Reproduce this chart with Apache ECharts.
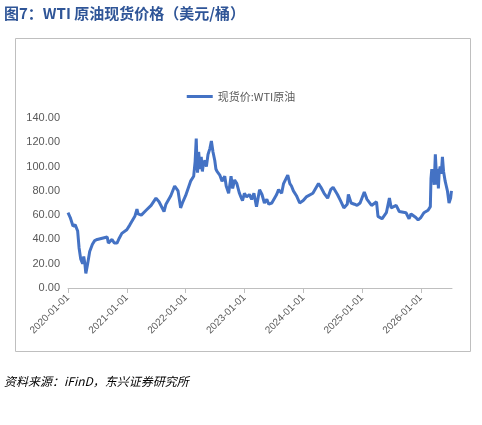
<!DOCTYPE html><html><head><meta charset="utf-8">
<script src="https://cdn.jsdelivr.net/npm/echarts@6/dist/echarts.min.js"></script>
<style>html,body{margin:0;padding:0;background:#fff}#c{width:482px;height:425px}</style></head><body><div id="c"></div>
<script>
const dates=["2020-01-01","2020-01-15","2020-02-01","2020-02-15","2020-03-01","2020-03-10","2020-03-20","2020-04-01","2020-04-08","2020-04-15","2020-04-21","2020-05-01","2020-05-15","2020-06-01","2020-06-15","2020-07-01","2020-08-01","2020-09-01","2020-09-08","2020-09-15","2020-10-01","2020-10-15","2020-11-01","2020-11-15","2020-12-01",
"2021-01-01","2021-01-20","2021-02-01","2021-02-20","2021-03-05","2021-03-12","2021-03-20","2021-04-01","2021-05-01","2021-06-01","2021-07-01","2021-07-20","2021-08-01","2021-08-20","2021-09-01","2021-10-01","2021-10-25","2021-11-15","2021-12-01","2021-12-15",
"2022-01-01","2022-02-01","2022-02-20","2022-03-01","2022-03-08","2022-03-12","2022-03-16","2022-03-23","2022-04-01","2022-04-08","2022-04-15","2022-04-22","2022-05-01","2022-05-10","2022-05-20","2022-06-01","2022-06-10","2022-06-20","2022-07-01","2022-07-08","2022-07-15","2022-08-01","2022-08-15","2022-09-01","2022-09-10","2022-09-25","2022-10-10","2022-10-20","2022-11-01","2022-11-15","2022-12-01","2022-12-10","2022-12-20",
"2023-01-01","2023-01-15","2023-02-01","2023-02-15","2023-03-01","2023-03-17","2023-04-05","2023-04-20","2023-05-05","2023-05-20","2023-06-01","2023-06-20","2023-07-01","2023-07-20","2023-08-01","2023-08-20","2023-09-01","2023-09-27","2023-10-10","2023-10-20","2023-11-01","2023-11-20","2023-12-10",
"2024-01-01","2024-01-20","2024-02-01","2024-03-01","2024-04-05","2024-04-20","2024-05-10","2024-06-01","2024-06-20","2024-07-05","2024-08-01","2024-08-20","2024-09-10","2024-10-01","2024-10-08","2024-10-25","2024-11-15","2024-12-01","2024-12-20",
"2025-01-15","2025-02-01","2025-03-01","2025-04-01","2025-04-10","2025-05-05","2025-06-01","2025-06-20","2025-07-01","2025-08-01","2025-08-20","2025-09-01","2025-10-01","2025-10-20","2025-11-01","2025-12-01","2025-12-15",
"2026-01-01","2026-01-20","2026-02-15","2026-03-01","2026-03-05","2026-03-10","2026-03-15","2026-03-20","2026-03-25","2026-04-01","2026-04-05","2026-04-08","2026-04-12","2026-04-15","2026-04-20","2026-04-25","2026-05-01","2026-05-08","2026-05-15","2026-05-22","2026-06-01","2026-06-08","2026-06-15","2026-06-25","2026-07-05","2026-07-10"];
const prices=[62,58,51,52,47,33,24,20,26,20,12,19,30,36,39,40,41,42,37,38,40,37,37,41,45,
48,52,53,59,65,61,60,60,64,68,74,71,70,63,69,76,84,80,66,71,
76,88,92,104,123,105,95,112,98,108,96,103,105,100,110,115,121,112,105,98,96,93,88,92,84,78,92,82,89,86,78,75,72,
78,75,77,73,78,67,81,77,70,73,69,70,71,77,81,78,86,93,86,84,80,76,70,
72,75,75,78,86,83,78,74,81,83,77,72,66,69,77,70,69,68,70,
79,73,68,71,59,57,62,74,66,68,63,64,62,57,61,58,56,
58,62,64,67,90,98,88,93,85,110,100,95,85,98,82,96,100,94,108,96,88,84,80,70,74,80];
const yTicks=[0,20,40,60,80,100,120,140];
function yr(s){const d=new Date(s+"T00:00:00Z");const y=d.getUTCFullYear();const a=Date.UTC(y,0,1),b=Date.UTC(y+1,0,1);return y+(d-a)/(b-a);}
const data=dates.map((d,i)=>[yr(d),prices[i]]);
const ch=echarts.init(document.getElementById('c'));
ch.setOption({animation:false,
graphic:[
{type:'rect',shape:{x:15.5,y:38.5,width:455,height:313},style:{fill:'none',stroke:'#bfbfbf',lineWidth:1}},
{type:'text',left:4,top:6,style:{text:'图7：WTI 原油现货价格（美元/桶）',fill:'#2f5597',font:'bold 15px "Noto Sans CJK SC"'}},
{type:'text',left:4,top:375,style:{text:'资料来源：iFinD，东兴证券研究所',fill:'#000',font:'italic 12px "Noto Sans CJK SC"'}}
],
legend:{top:86,left:'center',itemWidth:26,itemHeight:3,icon:'rect',textStyle:{color:'#595959',fontSize:11,fontFamily:'"Noto Sans CJK SC"'}},
grid:{left:68,right:30,top:118,bottom:137},
xAxis:{type:'value',min:2020,max:2026.53,interval:1,
 axisLine:{lineStyle:{color:'#bfbfbf'}},axisTick:{lineStyle:{color:'#bfbfbf'}},splitLine:{show:false},
 axisLabel:{rotate:45,color:'#595959',fontSize:10,formatter:v=>Number.isInteger(v)?v+'-01-01':'',showMaxLabel:false}},
yAxis:{type:'value',min:0,max:140,interval:20,splitLine:{show:false},axisLine:{show:false},axisTick:{show:false},
 axisLabel:{color:'#595959',fontSize:11,formatter:v=>v.toFixed(2)}},
series:[{name:'现货价:WTI原油',type:'line',data:data,showSymbol:false,lineStyle:{color:'#4472c4',width:3},itemStyle:{color:'#4472c4'}}]
});
</script></body></html>
